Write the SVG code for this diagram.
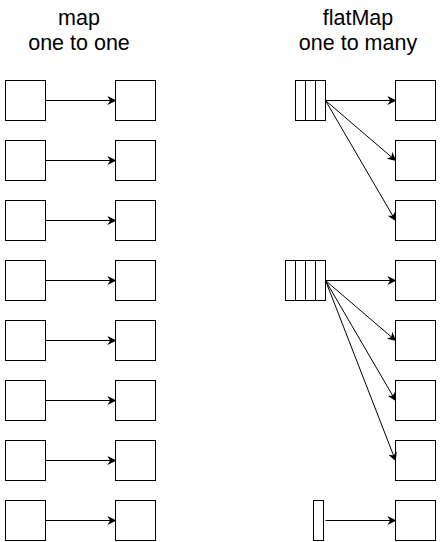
<svg xmlns="http://www.w3.org/2000/svg" width="442" height="542" viewBox="0 0 442 542">
<style>
.b{fill:#fff;stroke:#000;stroke-width:1}
.c{fill:none;stroke:#000;stroke-width:1}
.t{font-family:"Liberation Sans",Arial,sans-serif;font-size:21.5px;fill:#000;text-anchor:middle}
</style>
<defs>
<marker id="ah" viewBox="0 0 10 10" refX="9" refY="5" markerWidth="9" markerHeight="9" markerUnits="userSpaceOnUse" orient="auto">
<path d="M0,0 L10,5 L0,10 L3,5 Z" fill="#000"/>
</marker>
</defs>
<g id="title-map"><text class="t" x="79" y="25">map</text><text class="t" x="79" y="50">one to one</text></g>
<g id="title-flatmap"><text class="t" x="358" y="25">flatMap</text><text class="t" x="358" y="50">one to many</text></g>
<g id="l1"><rect class="b" x="5.5" y="80.5" width="40" height="40"/></g>
<g id="l2"><rect class="b" x="5.5" y="140.5" width="40" height="40"/></g>
<g id="l3"><rect class="b" x="5.5" y="200.5" width="40" height="40"/></g>
<g id="l4"><rect class="b" x="5.5" y="260.5" width="40" height="40"/></g>
<g id="l5"><rect class="b" x="5.5" y="320.5" width="40" height="40"/></g>
<g id="l6"><rect class="b" x="5.5" y="380.5" width="40" height="40"/></g>
<g id="l7"><rect class="b" x="5.5" y="440.5" width="40" height="40"/></g>
<g id="l8"><rect class="b" x="5.5" y="500.5" width="40" height="40"/></g>
<g id="m1"><rect class="b" x="115.5" y="80.5" width="40" height="40"/></g>
<g id="m2"><rect class="b" x="115.5" y="140.5" width="40" height="40"/></g>
<g id="m3"><rect class="b" x="115.5" y="200.5" width="40" height="40"/></g>
<g id="m4"><rect class="b" x="115.5" y="260.5" width="40" height="40"/></g>
<g id="m5"><rect class="b" x="115.5" y="320.5" width="40" height="40"/></g>
<g id="m6"><rect class="b" x="115.5" y="380.5" width="40" height="40"/></g>
<g id="m7"><rect class="b" x="115.5" y="440.5" width="40" height="40"/></g>
<g id="m8"><rect class="b" x="115.5" y="500.5" width="40" height="40"/></g>
<g id="f1"><rect class="b" x="295.5" y="80.5" width="30" height="40"/><path class="c" d="M305.5,80.5V120.5M315.5,80.5V120.5"/></g>
<g id="f2"><rect class="b" x="285.5" y="260.5" width="40" height="40"/><path class="c" d="M295.5,260.5V300.5M305.5,260.5V300.5M315.5,260.5V300.5"/></g>
<g id="f3"><rect class="b" x="313.5" y="500.5" width="10" height="40"/></g>
<g id="r1"><rect class="b" x="395.5" y="80.5" width="40" height="40"/></g>
<g id="r2"><rect class="b" x="395.5" y="140.5" width="40" height="40"/></g>
<g id="r3"><rect class="b" x="395.5" y="200.5" width="40" height="40"/></g>
<g id="r4"><rect class="b" x="395.5" y="260.5" width="40" height="40"/></g>
<g id="r5"><rect class="b" x="395.5" y="320.5" width="40" height="40"/></g>
<g id="r6"><rect class="b" x="395.5" y="380.5" width="40" height="40"/></g>
<g id="r7"><rect class="b" x="395.5" y="440.5" width="40" height="40"/></g>
<g id="r8"><rect class="b" x="395.5" y="500.5" width="40" height="40"/></g>
<g id="connectors">
<path class="c" marker-end="url(#ah)" d="M45.5,100.5H115.5"/>
<path class="c" marker-end="url(#ah)" d="M45.5,160.5H115.5"/>
<path class="c" marker-end="url(#ah)" d="M45.5,220.5H115.5"/>
<path class="c" marker-end="url(#ah)" d="M45.5,280.5H115.5"/>
<path class="c" marker-end="url(#ah)" d="M45.5,340.5H115.5"/>
<path class="c" marker-end="url(#ah)" d="M45.5,400.5H115.5"/>
<path class="c" marker-end="url(#ah)" d="M45.5,460.5H115.5"/>
<path class="c" marker-end="url(#ah)" d="M45.5,520.5H115.5"/>
<path class="c" marker-end="url(#ah)" d="M325.5,100.5H395.5"/>
<path class="c" marker-end="url(#ah)" d="M325.5,100.5L395.5,160.5"/>
<path class="c" marker-end="url(#ah)" d="M325.5,100.5L395.5,220.5"/>
<path class="c" marker-end="url(#ah)" d="M325.5,280.5H395.5"/>
<path class="c" marker-end="url(#ah)" d="M325.5,280.5L395.5,340.5"/>
<path class="c" marker-end="url(#ah)" d="M325.5,280.5L395.5,400.5"/>
<path class="c" marker-end="url(#ah)" d="M325.5,280.5L395.5,460.5"/>
<path class="c" marker-end="url(#ah)" d="M325.5,520.5H395.5"/>
</g>
</svg>
